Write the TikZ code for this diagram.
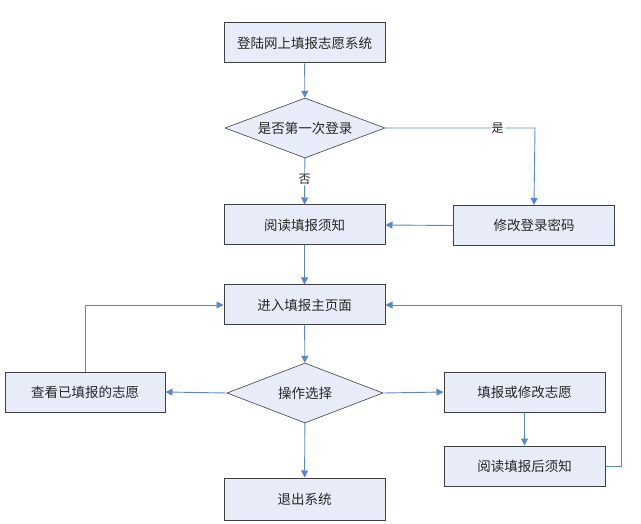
\documentclass[tikz,border=0pt]{standalone}
\usepackage{fontspec}
\newfontfamily\cjk{Noto Sans CJK SC}
\usetikzlibrary{shapes.geometric,arrows.meta}
\definecolor{boxfill}{HTML}{E8ECF8}
\definecolor{boxline}{HTML}{404040}
\definecolor{arrowblue}{HTML}{5B87C8}
\begin{document}
\begin{tikzpicture}[x=1pt,y=-1pt,
  every node/.style={font=\cjk\fontsize{13.5}{15}\selectfont, text=black!85},
  stepbox/.style={draw=boxline, line width=1pt, fill=boxfill, minimum width=161pt, minimum height=40pt, inner sep=0pt},
  choice/.style={diamond, draw=boxline, line width=0.6pt, fill=boxfill, aspect=2.67, minimum width=160pt, minimum height=60pt, inner sep=0pt},
  flow/.style={draw=arrowblue, line width=0.9pt, -{Triangle[length=7pt,width=7pt]}},
  lbl/.style={fill=white, inner sep=1pt, font=\cjk\fontsize{12}{13}\selectfont}]
\useasboundingbox (0,0) rectangle (641,524);
\node[stepbox] (login) at (304.5,43) {登陆网上填报志愿系统};
\node[choice] (first) at (305,128) {是否第一次登录};
\node[stepbox] (read) at (304.5,225) {阅读填报须知};
\node[stepbox] (pwd) at (534,225.5) {修改登录密码};
\node[stepbox] (main) at (304.5,305) {进入填报主页面};
\node[choice, minimum width=156pt] (op) at (305,393) {操作选择};
\node[stepbox, minimum width=160pt] (view) at (85,392) {查看已填报的志愿};
\node[stepbox, minimum width=161pt] (fill) at (524.5,392) {填报或修改志愿};
\node[stepbox, minimum width=161pt] (after) at (524.5,466) {阅读填报后须知};
\node[stepbox, minimum height=42pt] (quit) at (304.5,499) {退出系统};
\coordinate (c1) at (535,128);
\coordinate (c2) at (85,305);
\coordinate (c3) at (621,466);
\coordinate (c4) at (621,305);
\draw[flow] (login) -- (first);
\draw[flow] (first) -- node[lbl, pos=0.45]{否} (read);
\draw[flow] (first.east) -- node[lbl, pos=0.75]{是} (c1) -- (pwd.north);
\draw[flow] (pwd.west) -- (read.east);
\draw[flow] (read) -- (main);
\draw[flow] (main) -- (op);
\draw[flow] (op.west) -- (view.east);
\draw[flow] (op.east) -- (fill.west);
\draw[flow] (op) -- (quit);
\draw[flow] (fill) -- (after);
\draw[flow] (view.north) -- (c2) -- (main.west);
\draw[flow] (after.east) -- (c3) -- (c4) -- (main.east);
\end{tikzpicture}
\end{document}
